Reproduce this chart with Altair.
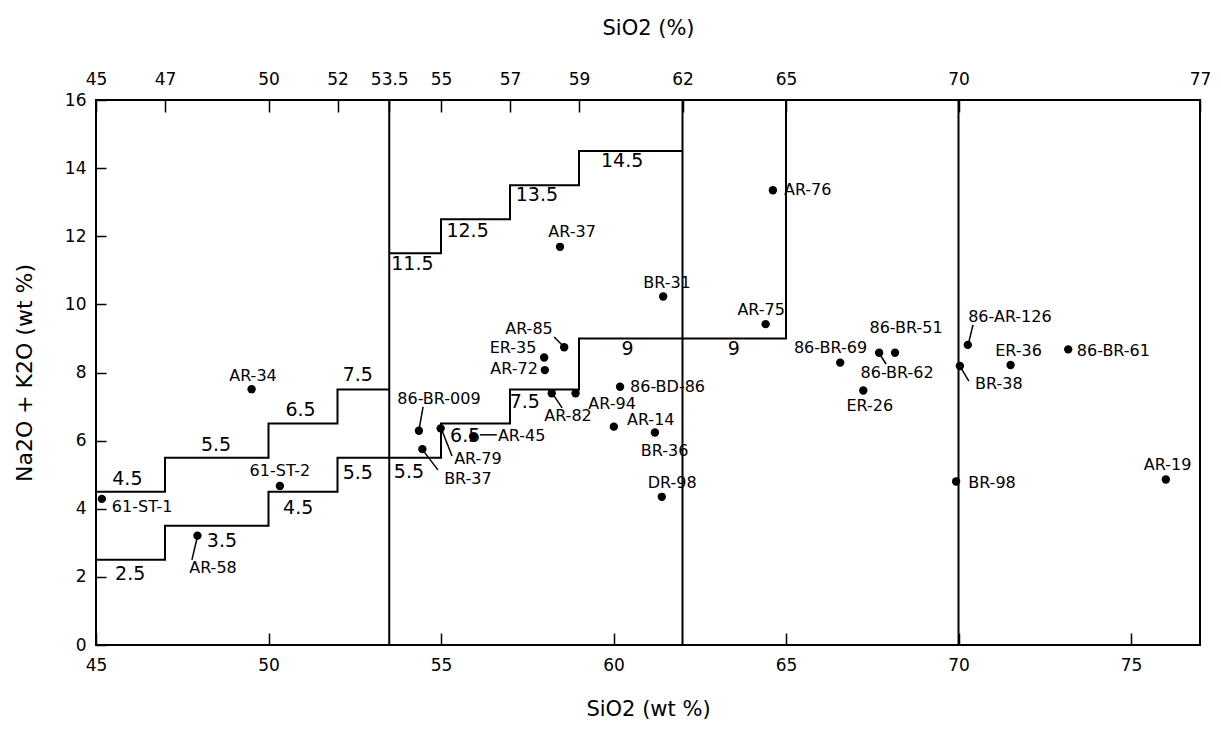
import altair as alt
import pandas as pd

FONT = "DejaVu Sans"

# ---------------- sample points ----------------
names = ["61-ST-1", "AR-58", "61-ST-2", "AR-34", "86-BR-009", "BR-37", "AR-79", "AR-45",
         "AR-82", "AR-94", "AR-85", "ER-35", "AR-72", "AR-37", "BR-31", "AR-75",
         "86-BD-86", "AR-14", "BR-36", "DR-98", "AR-76", "86-BR-69", "86-BR-62", "86-BR-51",
         "ER-26", "86-AR-126", "BR-38", "ER-36", "86-BR-61", "BR-98", "AR-19"]
sio2 = [45.17, 47.94, 50.33, 49.51, 54.36, 54.46, 54.99, 55.93,
        58.21, 58.90, 58.57, 57.99, 58.01, 58.45, 61.44, 64.41,
        60.19, 60.01, 61.20, 61.40, 64.62, 66.57, 67.70, 68.16,
        67.24, 70.27, 70.04, 71.51, 73.18, 69.93, 76.01]
alkali = [4.29, 3.21, 4.67, 7.51, 6.29, 5.75, 6.36, 6.12,
          7.39, 7.39, 8.74, 8.44, 8.07, 11.69, 10.23, 9.42,
          7.58, 6.41, 6.24, 4.35, 13.35, 8.29, 8.58, 8.58,
          7.47, 8.81, 8.19, 8.22, 8.68, 4.80, 4.86]
# label anchors (data units) and alignment
label_x = [45.46, 48.39, 50.33, 49.55, 54.94, 55.78, 56.07, 56.65,
           58.68, 59.96, 57.55, 57.09, 57.12, 58.80, 61.55, 64.28,
           60.48, 60.39, 61.48, 61.70, 64.94, 66.29, 68.22, 68.48,
           67.43, 71.49, 71.17, 71.74, 73.43, 70.28, 76.06]
label_y = [4.05, 2.26, 5.11, 7.90, 7.22, 4.88, 5.45, 6.14,
           6.72, 7.08, 9.28, 8.73, 8.10, 12.12, 10.63, 9.84,
           7.57, 6.61, 5.71, 4.77, 13.35, 8.73, 8.00, 9.32,
           7.02, 9.62, 7.66, 8.63, 8.63, 4.77, 5.27]
label_align = ["left", "center", "center", "center", "center", "center", "center", "left",
               "center", "center", "center", "center", "center", "center", "center", "center",
               "left", "left", "center", "center", "left", "center", "center", "center",
               "center", "center", "center", "center", "left", "left", "center"]

# leader lines from points to their labels
lead_name = ["AR-58", "86-BR-009", "BR-37", "AR-79", "AR-45", "AR-82", "AR-85",
             "86-BR-62", "86-AR-126", "BR-38"]
lead_x1 = [47.93, 54.36, 54.45, 55.00, 56.13, 58.22, 58.28, 67.70, 70.28, 70.04]
lead_y1 = [3.14, 6.31, 5.75, 6.37, 6.17, 7.40, 9.04, 8.57, 8.81, 8.19]
lead_x2 = [47.78, 54.48, 54.91, 55.32, 56.62, 58.51, 58.57, 67.90, 70.42, 70.30]
lead_y2 = [2.50, 6.99, 5.14, 5.55, 6.17, 6.96, 8.75, 8.25, 9.40, 7.75]

# ---------------- field boundaries ----------------
upper_left_x = [45, 47, 47, 50, 50, 52, 52, 53.5]
upper_left_y = [4.5, 4.5, 5.5, 5.5, 6.5, 6.5, 7.5, 7.5]
lower_x = [45, 47, 47, 50, 50, 52, 52, 55, 55, 57, 57, 59, 59, 65, 65]
lower_y = [2.5, 2.5, 3.5, 3.5, 4.5, 4.5, 5.5, 5.5, 6.5, 6.5, 7.5, 7.5, 9, 9, 16]
upper_right_x = [53.5, 55, 55, 57, 57, 59, 59, 62]
upper_right_y = [11.5, 11.5, 12.5, 12.5, 13.5, 13.5, 14.5, 14.5]
divider_x = [53.5, 62, 70]
divider_y0 = [0, 0, 0]
divider_y1 = [16, 16, 16]

# step value labels
step_text = ["4.5", "2.5", "5.5", "3.5", "4.5", "5.5", "5.5", "6.5", "7.5",
             "11.5", "12.5", "13.5", "14.5", "6.5", "7.5", "9", "9"]
step_x = [45.91, 45.99, 48.48, 48.65, 50.86, 52.59, 54.07, 50.93, 52.59,
          54.17, 55.77, 57.78, 60.25, 55.70, 57.43, 60.41, 63.49]
step_y = [4.87, 2.08, 5.87, 3.04, 4.01, 5.04, 5.09, 6.91, 7.94,
          11.20, 12.14, 13.20, 14.20, 6.15, 7.12, 8.69, 8.69]

bottom_ticks = [45, 50, 55, 60, 65, 70, 75]
top_ticks = [45, 47, 50, 52, 53.5, 55, 57, 59, 62, 65, 70, 77]
left_ticks = [0, 2, 4, 6, 8, 10, 12, 14, 16]

# ---------------- tables ----------------
pts = pd.DataFrame({"name": names, "x": sio2, "y": alkali,
                    "lx": label_x, "ly": label_y, "align": label_align})
rows = []
for g, (xs, ys) in enumerate([(upper_left_x, upper_left_y), (lower_x, lower_y),
                              (upper_right_x, upper_right_y)]):
    for i, (a, b) in enumerate(zip(xs, ys)):
        rows.append({"g": g, "i": i, "x": a, "y": b})
lines = pd.DataFrame(rows)
divs = pd.DataFrame({"x": divider_x, "y": divider_y0, "y2": divider_y1})
steps = pd.DataFrame({"t": step_text, "x": step_x, "y": step_y})
leads = pd.DataFrame({"n": lead_name, "x": lead_x1, "y": lead_y1, "x2": lead_x2, "y2": lead_y2})

xs_ = alt.Scale(domain=[45, 77], nice=False, zero=False)
ys_ = alt.Scale(domain=[0, 16], nice=False, zero=False)

common_axis = dict(domain=False, grid=False, labelFont=FONT, labelFontSize=17, labelColor="black",
                   tickColor="black", tickWidth=1.5, titleFont=FONT, titleFontWeight="normal",
                   titleColor="black", labelFlush=False, labelOverlap=False, format=".3~g")

bottom_axis = alt.Axis(orient="bottom", values=bottom_ticks, tickSize=12, offset=-12,
                       labelPadding=12, title="SiO2 (wt %)", titleFontSize=21, titlePadding=25,
                       **common_axis)
top_axis = alt.Axis(orient="top", values=top_ticks, tickSize=12, offset=-12,
                    labelPadding=12, title="SiO2  (%)", titleFontSize=21, titlePadding=32,
                    **common_axis)
left_axis = alt.Axis(orient="left", values=left_ticks, tickSize=10, offset=-10,
                     labelPadding=10, title="Na2O + K2O (wt %)", titleFontSize=22, titlePadding=28,
                     **common_axis)

boundary = alt.Chart(lines).mark_line(color="black", strokeWidth=2).encode(
    x=alt.X("x:Q", scale=xs_, axis=bottom_axis),
    y=alt.Y("y:Q", scale=ys_, axis=left_axis),
    detail="g:N",
    order="i:Q",
)

dividers = alt.Chart(divs).mark_rule(color="black", strokeWidth=2).encode(
    x=alt.X("x:Q", scale=xs_, axis=top_axis),
    y=alt.Y("y:Q", scale=ys_, axis=None),
    y2="y2:Q",
)

leaders = alt.Chart(leads).mark_rule(color="black", strokeWidth=1.5).encode(
    x=alt.X("x:Q", scale=xs_, axis=None),
    y=alt.Y("y:Q", scale=ys_, axis=None),
    x2="x2:Q",
    y2="y2:Q",
)

points = alt.Chart(pts).mark_circle(color="black", size=70, opacity=1).encode(
    x=alt.X("x:Q", scale=xs_, axis=None),
    y=alt.Y("y:Q", scale=ys_, axis=None),
)

label_layers = []
for al in ["left", "center", "right"]:
    label_layers.append(
        alt.Chart(pts).transform_filter(alt.datum.align == al).mark_text(
            align=al, baseline="middle", font=FONT, fontSize=16, color="black"
        ).encode(
            x=alt.X("lx:Q", scale=xs_, axis=None),
            y=alt.Y("ly:Q", scale=ys_, axis=None),
            text="name:N",
        )
    )

step_labels = alt.Chart(steps).mark_text(
    align="center", baseline="middle", font=FONT, fontSize=19, color="black"
).encode(
    x=alt.X("x:Q", scale=xs_, axis=None),
    y=alt.Y("y:Q", scale=ys_, axis=None),
    text="t:N",
)

chart = alt.layer(boundary, dividers, leaders, points, step_labels, *label_layers).resolve_axis(
    x="independent", y="independent"
).properties(
    width=1104, height=545,
    autosize=alt.AutoSizeParams(type="none"),
    padding={"left": 88, "top": 92, "right": 13, "bottom": 85},
    background="white",
).configure_view(stroke="black", strokeWidth=2)

chart.save("out.html", embed_options={"renderer": "svg", "actions": False})
